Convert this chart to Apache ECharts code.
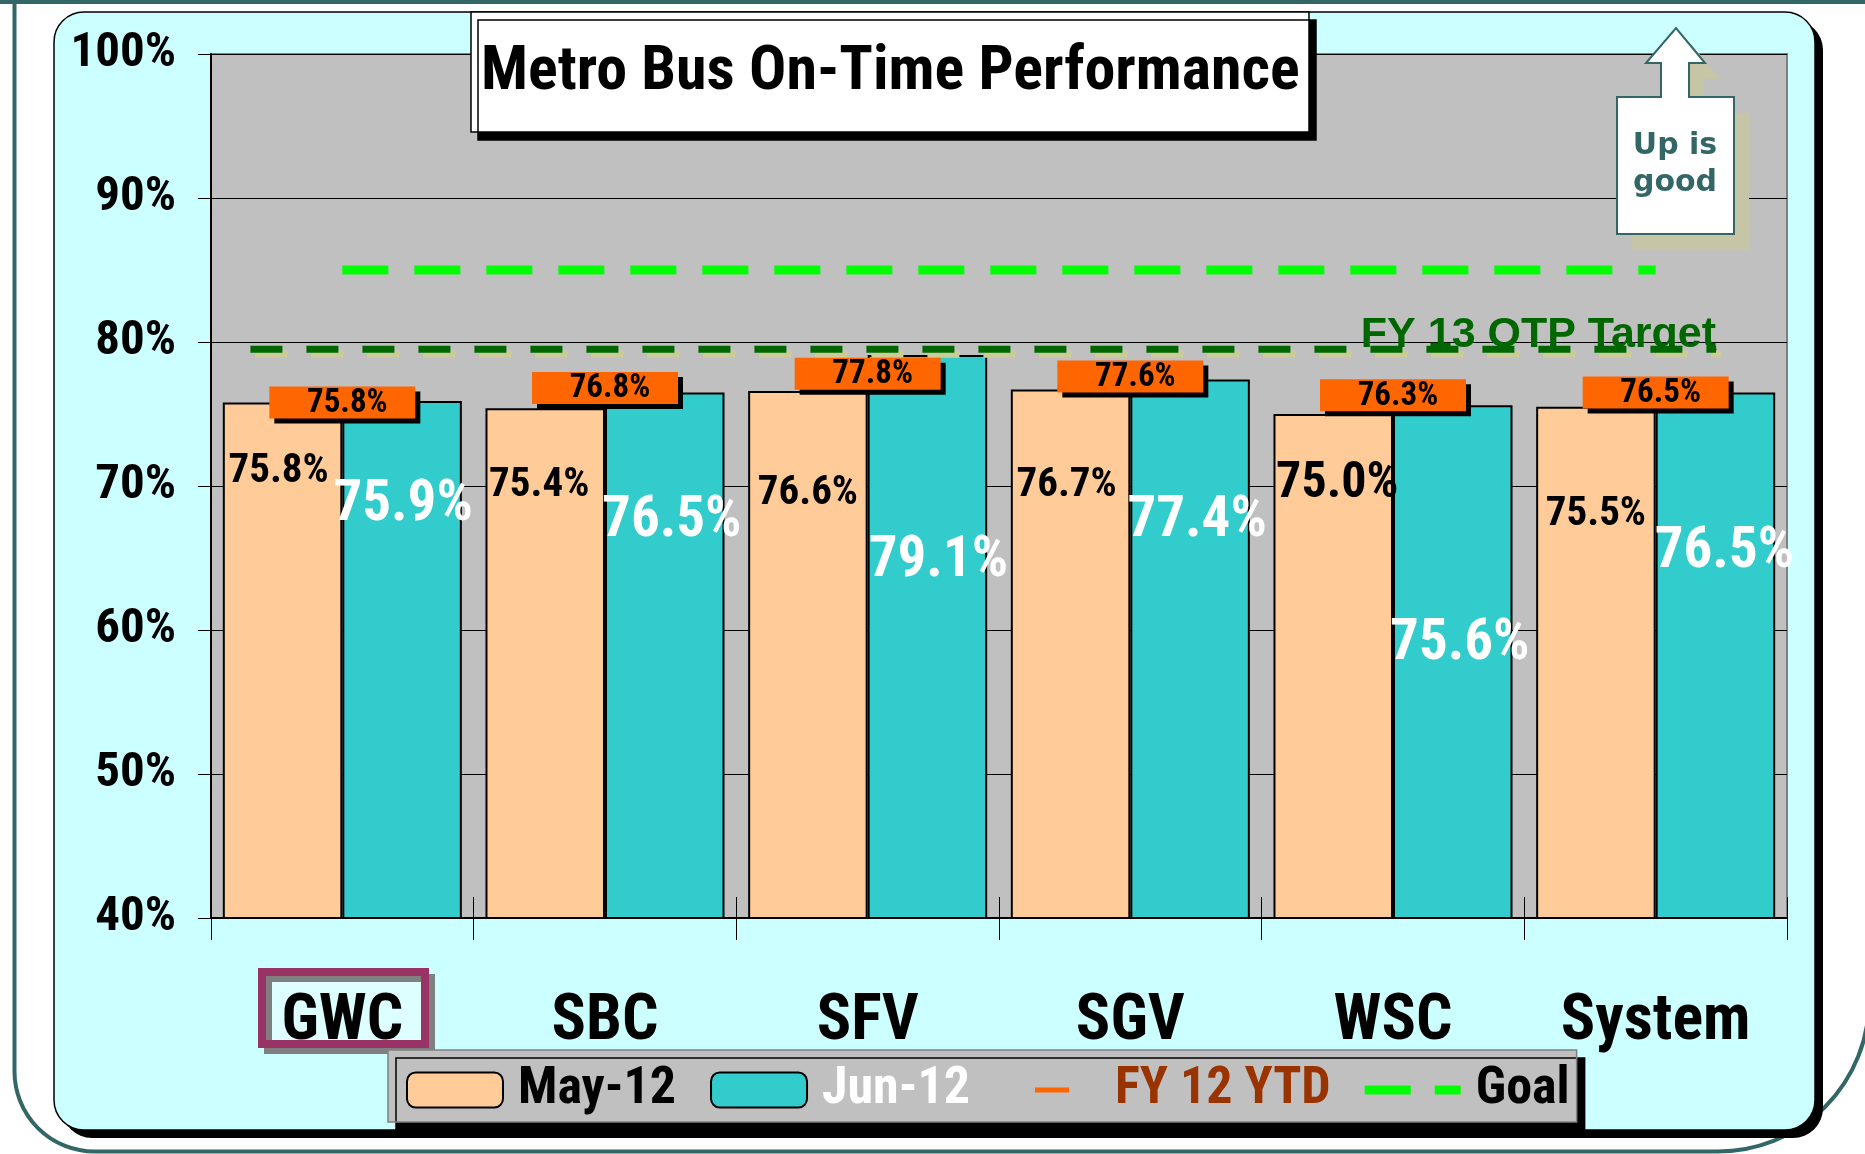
<!DOCTYPE html>
<html>
<head>
<meta charset="utf-8">
<script src="https://cdn.jsdelivr.net/npm/echarts@6/dist/echarts.min.js"></script>
<style>html,body{margin:0;padding:0;background:#fff;}#chart{width:1865px;height:1154px;}</style>
</head>
<body>
<div id="chart"></div>
<script>
// ---- data ----
const categories = ['GWC', 'SBC', 'SFV', 'SGV', 'WSC', 'System'];
const may12 = [75.8, 75.4, 76.6, 76.7, 75.0, 75.5];
const jun12 = [75.9, 76.5, 79.1, 77.4, 75.6, 76.5];
const fy12Ytd = [75.8, 76.8, 77.8, 77.6, 76.3, 76.5];
const goal = [85, 85, 85, 85, 85, 85];
const targetValue = 79.5;
const targetSpan = [0.15, 5.73];
const targetText = 'FY 13 OTP Target';
const yTicks = [40, 50, 60, 70, 80, 90, 100];

// ---- label placement (style only) ----
const mayLabelPos = [[-4, 69], [-6, 78], [0, 103], [-4, 96], [4, 70], [0, 108]];
const mayLabelSize = [41, 41, 41, 41, 50, 41];
const junLabelPos = [[1, 105], [7, 129], [11, 207], [7, 142], [7, 239], [9, 160]];

const NARROW = '"Roboto Condensed", "Liberation Sans Narrow", "Arial Narrow", sans-serif';
const fmt = p => Number(p.value).toFixed(1) + '%';
const dashIcon = 'path://M0,0L0.01,0L0,0.01Z M96,35L95.99,35L96,34.99Z M31,15H65V20H31Z';
const goalIcon = 'path://M0,0L0.01,0L0,0.01Z M96,35L95.99,35L96,34.99Z M0,13H46V22H0Z M70,13H96V22H70Z';
const arrowPts = [[1617,97],[1661,97],[1661,63],[1646,63],[1676,28],[1705,63],[1689,63],[1689,97],[1734,97],[1734,234],[1617,234]];

const chart = echarts.init(document.getElementById('chart'), null, {renderer: 'canvas'});

const option = {
  animation: false,
  backgroundColor: '#ffffff',
  textStyle: {fontFamily: NARROW, fontWeight: 'bold'},
  title: {
    text: 'Metro Bus On-Time Performance',
    left: 471, top: 12,
    padding: [30, 10, 28, 10],
    backgroundColor: '#ffffff',
    borderColor: '#000', borderWidth: 1.5,
    shadowColor: '#000', shadowBlur: 0, shadowOffsetX: 7, shadowOffsetY: 8,
    textStyle: {fontFamily: NARROW, fontWeight: 'bold', fontSize: 62, lineHeight: 62, color: '#000'},
    z: 20
  },
  legend: {
    left: 388, top: 1050,
    padding: [14, 7, 6, 18],
    itemWidth: 96, itemHeight: 35, itemGap: 34,
    backgroundColor: '#C0C0C0', borderColor: '#808080', borderWidth: 1.5,
    shadowColor: '#000', shadowBlur: 0, shadowOffsetX: 8, shadowOffsetY: 8,
    selectedMode: false,
    textStyle: {fontFamily: NARROW, fontWeight: 'bold', fontSize: 52, lineHeight: 52, padding: [0, 0, 0, 10]},
    data: [
      {name: 'May-12', textStyle: {color: '#000'}},
      {name: 'Jun-12', textStyle: {color: '#fff'}},
      {name: 'FY 12 YTD', icon: dashIcon,
       itemStyle: {color: '#FF6600', shadowColor: 'rgba(0,0,0,0)', shadowOffsetX: 0, shadowOffsetY: 0},
       textStyle: {color: '#993300'}},
      {name: 'Goal', icon: goalIcon,
       itemStyle: {color: '#00FF00', borderWidth: 0},
       textStyle: {color: '#000'}}
    ],
    z: 20
  },
  grid: {
    left: 211, right: 78, top: 54, bottom: 236,
    show: true, backgroundColor: '#C0C0C0', borderColor: '#808080', borderWidth: 2
  },
  xAxis: [
    {
      type: 'category', data: categories, position: 'bottom',
      axisLine: {lineStyle: {color: '#000', width: 2}},
      axisTick: {show: true, inside: false, length: 22, lineStyle: {color: '#000', width: 1}},
      splitLine: {show: false},
      axisLabel: {margin: 73, fontFamily: NARROW, fontWeight: 'bold', fontSize: 64, lineHeight: 64, color: '#000'}
    },
    {
      type: 'category', data: categories, position: 'bottom', gridIndex: 0,
      axisLine: {show: false},
      axisTick: {show: true, inside: true, length: 21, lineStyle: {color: '#000', width: 1}},
      axisLabel: {show: false}, splitLine: {show: false}
    },
    {
      type: 'value', min: 0, max: categories.length, show: false, gridIndex: 0
    }
  ],
  yAxis: {
    type: 'value', min: yTicks[0], max: yTicks[yTicks.length - 1], interval: 10,
    axisLine: {show: true, lineStyle: {color: '#000', width: 2}},
    axisTick: {show: true, length: 13, lineStyle: {color: '#000', width: 1}},
    splitLine: {show: true, lineStyle: {color: '#000', width: 1}},
    axisLabel: {margin: 35, formatter: '{value}%', fontFamily: NARROW, fontWeight: 'bold', fontSize: 49, color: '#000',
                padding: [6, 0, 0, 0]}
  },
  series: [
    {
      name: 'May-12', type: 'bar', xAxisIndex: 0,
      barCategoryGap: '9%', barGap: '0%',
      itemStyle: {color: '#FFCC99', borderColor: '#000', borderWidth: 2},
      label: {show: true, formatter: fmt, color: '#000', fontFamily: NARROW, fontWeight: 'bold', align: 'center', verticalAlign: 'middle'},
      data: may12.map((v, i) => ({
        value: v,
        label: {position: ['50%', mayLabelPos[i][1]], offset: [mayLabelPos[i][0], 0], fontSize: mayLabelSize[i]}
      })),
      z: 2
    },
    {
      name: 'Jun-12', type: 'bar', xAxisIndex: 0,
      barCategoryGap: '9%', barGap: '0%',
      itemStyle: {color: '#33CCCC', borderColor: '#000', borderWidth: 2},
      label: {show: true, formatter: fmt, color: '#fff', fontFamily: NARROW, fontWeight: 'bold', fontSize: 57, align: 'center', verticalAlign: 'middle'},
      data: jun12.map((v, i) => ({
        value: v,
        label: {position: ['50%', junLabelPos[i][1]], offset: [junLabelPos[i][0], 0]}
      })),
      z: 2
    },
    {
      name: 'targetLabel', type: 'scatter', xAxisIndex: 2,
      symbol: 'rect', symbolSize: 1, silent: true,
      itemStyle: {color: '#006600', opacity: 1},
      label: {show: true, formatter: targetText, position: 'top', align: 'right', distance: -8, opacity: 1,
              fontFamily: '"Liberation Sans", Arial, sans-serif', fontWeight: 'bold', fontSize: 43, lineHeight: 43, color: '#006600'},
      data: [[targetSpan[1], targetValue]],
      z: 3
    },
    {
      name: targetText, type: 'line', xAxisIndex: 2,
      symbol: 'none', silent: true,
      lineStyle: {color: '#006600', width: 7, type: [32, 24], shadowColor: '#CCCC99', shadowBlur: 0, shadowOffsetX: 5, shadowOffsetY: 5},
      data: [[targetSpan[0], targetValue], [targetSpan[1], targetValue]],
      z: 4
    },
    {
      name: 'Goal', type: 'line', xAxisIndex: 0,
      symbol: 'none', showSymbol: false,
      itemStyle: {color: '#00FF00'},
      lineStyle: {color: '#00FF00', width: 9, type: [46, 26]},
      data: goal,
      z: 4
    },
    {
      name: 'FY 12 YTD', type: 'scatter', xAxisIndex: 0,
      symbol: 'rect', symbolSize: [146, 32],
      itemStyle: {color: '#FF6600', opacity: 1, shadowColor: '#000', shadowBlur: 0, shadowOffsetX: 5, shadowOffsetY: 5},
      label: {show: true, position: 'inside', offset: [5, 1], formatter: fmt, color: '#000',
              fontFamily: NARROW, fontWeight: 'bold', fontSize: 33},
      data: fy12Ytd,
      z: 6
    }
  ],
  graphic: {
    elements: [
      {type: 'rect', z: -20, shape: {x: 14.5, y: -50, width: 1854.5, height: 1201.5, r: [0, 0, 151, 80]},
       style: {fill: 'none', stroke: '#336666', lineWidth: 4}},
      {type: 'rect', z: -20, shape: {x: 0, y: 0, width: 1865, height: 4}, style: {fill: '#336666'}},
      {type: 'rect', z: -12, shape: {x: 62, y: 20, width: 1761, height: 1118, r: 30}, style: {fill: '#000'}},
      {type: 'rect', z: -11, shape: {x: 54, y: 12, width: 1761, height: 1118, r: 30},
       style: {fill: '#CCFFFF', stroke: '#000', lineWidth: 1.5}},
      // highlight box around the first category label
      {type: 'rect', z: -8, shape: {x: 262, y: 972, width: 163, height: 72}, style: {fill: '#DDFFFF'}},
      {type: 'rect', z: -7, shape: {x: 268, y: 978, width: 163, height: 72}, style: {fill: 'none', stroke: '#808080', lineWidth: 8}},
      {type: 'rect', z: -6, shape: {x: 262, y: 972, width: 163, height: 72}, style: {fill: 'none', stroke: '#993366', lineWidth: 8}},
      // "Up is good" arrow
      {type: 'polygon', z: 30, x: 15, y: 16, shape: {points: arrowPts}, style: {fill: '#C6C6A6'}},
      {type: 'polygon', z: 31, shape: {points: arrowPts}, style: {fill: '#ffffff', stroke: '#336666', lineWidth: 2}},
      {type: 'text', z: 32,
       style: {text: 'Up is\ngood', x: 1675, y: 165, textAlign: 'center', textVerticalAlign: 'middle',
               font: 'bold 30px "DejaVu Sans", Verdana, sans-serif', fill: '#336666', lineHeight: 37}}
    ]
  }
};

chart.setOption(option);
</script>
</body>
</html>
